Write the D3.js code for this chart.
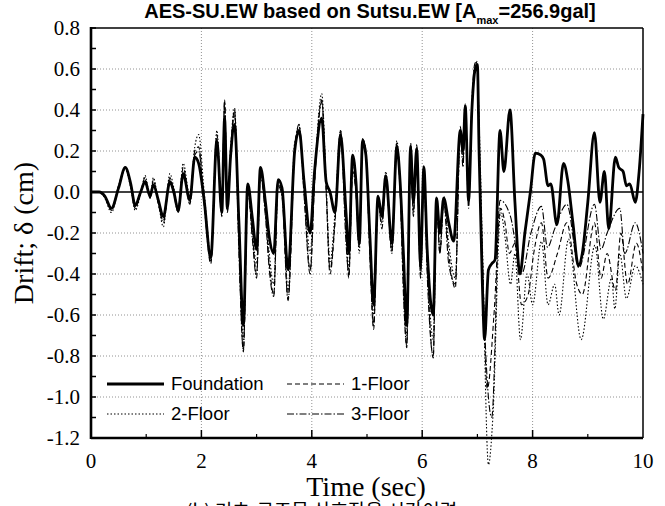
<!DOCTYPE html>
<html>
<head>
<meta charset="utf-8">
<script src="https://cdn.jsdelivr.net/npm/d3@7"></script>
<style>
  body { margin: 0; background: #fff; }
  svg { display: block; }
</style>
</head>
<body>
<div id="chart"></div>
<script>
// tick values and labels
var xMajor = [0, 2, 4, 6, 8, 10];
var xMinor = [1, 3, 5, 7, 9];
var xTickLabels = ["0", "2", "4", "6", "8", "10"];
var yMajor = [0.8, 0.6, 0.4, 0.2, 0.0, -0.2, -0.4, -0.6, -0.8, -1.0, -1.2];
var yMinor = [0.7, 0.5, 0.3, 0.1, -0.1, -0.3, -0.5, -0.7, -0.9, -1.1];
var yTickLabels = ["0.8", "0.6", "0.4", "0.2", "0.0", "-0.2", "-0.4", "-0.6", "-0.8", "-1.0", "-1.2"];
var seriesNames = ["Foundation", "1-Floor", "2-Floor", "3-Floor"];

// drift time histories: [time (sec), drift (cm)]
var foundation = [[0,0],[0.15,0],[0.25,-0.02],[0.37,-0.08],[0.5,0.02],[0.62,0.12],[0.72,0.04],[0.8,-0.065],[0.9,0],[0.98,0.05],
  [1.07,-0.02],[1.13,0.035],[1.22,-0.04],[1.31,-0.12],[1.43,0.05],[1.5,0],[1.58,-0.09],[1.67,0.09],[1.79,-0.04],[1.88,0.17],
  [1.95,0.14],[2.05,-0.04],[2.17,-0.32],[2.28,0.25],[2.37,-0.1],[2.42,0.36],[2.47,-0.08],[2.53,0.18],[2.6,0.33],[2.68,-0.15],
  [2.76,-0.65],[2.84,0.04],[2.92,-0.12],[3.0,-0.28],[3.07,0.12],[3.16,-0.05],[3.23,-0.22],[3.31,-0.3],[3.39,0.06],[3.46,0.02],
  [3.57,-0.38],[3.69,0.2],[3.77,0.3],[3.86,0.05],[3.97,-0.2],[4.05,0.1],[4.18,0.36],[4.26,0.05],[4.33,0],[4.42,-0.1],
  [4.52,0.28],[4.62,-0.1],[4.67,-0.3],[4.74,0.18],[4.8,0.05],[4.86,-0.25],[4.92,0.25],[4.98,0.18],[5.05,-0.2],[5.12,-0.55],
  [5.2,-0.02],[5.27,-0.12],[5.34,0.08],[5.45,-0.25],[5.54,0.22],[5.6,0.05],[5.66,-0.3],[5.72,-0.65],[5.79,0.22],[5.84,-0.05],
  [5.9,0.21],[5.97,-0.35],[6.03,0.12],[6.09,-0.28],[6.2,-0.6],[6.26,-0.03],[6.32,-0.2],[6.39,-0.03],[6.48,-0.15],[6.57,-0.24],
  [6.69,0.3],[6.74,0.2],[6.78,0.42],[6.84,-0.04],[6.9,0.4],[6.96,0.6],[7.0,0.62],[7.03,0.2],[7.09,-0.45],[7.13,-0.72],
  [7.2,-0.38],[7.26,-0.35],[7.32,-0.33],[7.41,0.3],[7.48,0.1],[7.59,0.4],[7.68,-0.05],[7.77,-0.4],[7.86,-0.2],[7.96,0],
  [8.05,0.19],[8.15,0.18],[8.2,0.16],[8.28,0.03],[8.33,0.04],[8.44,-0.16],[8.56,0.14],[8.64,0.05],[8.73,-0.15],[8.83,-0.36],
  [8.9,-0.3],[9.0,-0.05],[9.12,0.29],[9.22,-0.05],[9.3,0.1],[9.38,-0.18],[9.5,0.17],[9.56,0.12],[9.64,0.1],[9.7,0.03],
  [9.76,0.04],[9.86,-0.05],[9.93,0.1],[10,0.38]];

var floor1 = [[0,0],[0.15,0],[0.25,-0.02],[0.37,-0.08],[0.5,0.03],[0.62,0.12],[0.72,0.03],[0.8,-0.08],[0.9,0],[0.98,0.07],
  [1.07,-0.03],[1.13,0.06],[1.22,-0.06],[1.31,-0.14],[1.43,0.07],[1.5,-0.01],[1.58,-0.1],[1.67,0.12],[1.79,-0.05],[1.88,0.2],
  [1.95,0.22],[2.05,-0.06],[2.17,-0.35],[2.28,0.28],[2.37,-0.12],[2.42,0.45],[2.47,-0.1],[2.53,0.2],[2.6,0.4],[2.68,-0.25],
  [2.76,-0.78],[2.84,0],[2.92,-0.2],[3.0,-0.4],[3.07,0.1],[3.16,-0.1],[3.23,-0.35],[3.31,-0.5],[3.39,0.04],[3.46,0],
  [3.57,-0.52],[3.69,0.22],[3.77,0.32],[3.86,0],[3.97,-0.38],[4.05,0.05],[4.18,0.45],[4.26,0],[4.33,-0.4],[4.42,-0.15],
  [4.52,0.3],[4.62,-0.2],[4.67,-0.42],[4.74,0.12],[4.8,0],[4.86,-0.27],[4.92,0.26],[4.98,0.19],[5.05,-0.3],[5.12,-0.67],
  [5.2,-0.05],[5.27,-0.15],[5.34,0.08],[5.45,-0.29],[5.54,0.24],[5.6,0],[5.66,-0.45],[5.72,-0.76],[5.79,0.24],[5.84,-0.1],
  [5.9,0.23],[5.97,-0.4],[6.03,0.1],[6.09,-0.35],[6.2,-0.81],[6.26,-0.02],[6.32,-0.3],[6.39,-0.04],[6.48,-0.3],[6.6,-0.47],
  [6.69,0.32],[6.74,0.15],[6.78,0.43],[6.84,-0.05],[6.9,0.42],[6.96,0.6],[7.0,0.64],[7.03,0.3],[7.09,-0.3],[7.18,-0.96],
  [7.3,-0.6],[7.42,-0.08],[7.5,-0.15],[7.58,-0.3],[7.68,-0.25],[7.8,-0.55],[7.92,-0.5],[8.02,-0.3],[8.16,-0.15],[8.28,-0.42],
  [8.45,-0.3],[8.62,-0.15],[8.8,-0.45],[8.9,-0.5],[9.12,-0.15],[9.24,-0.42],[9.35,-0.3],[9.5,-0.48],[9.6,-0.2],[9.72,-0.45],
  [9.88,-0.25],[10,-0.4]];

var floor2 = [[0,0],[0.15,0],[0.25,-0.03],[0.37,-0.1],[0.5,0.02],[0.62,0.11],[0.72,0.02],[0.8,-0.09],[0.9,-0.01],[0.98,0.08],
  [1.07,-0.02],[1.13,0.07],[1.22,-0.05],[1.31,-0.17],[1.43,0.09],[1.5,0.02],[1.58,-0.08],[1.67,0.14],[1.79,-0.02],[1.88,0.22],
  [1.95,0.28],[2.05,0],[2.17,-0.3],[2.28,0.3],[2.37,-0.08],[2.42,0.42],[2.47,-0.05],[2.53,0.22],[2.6,0.41],[2.68,-0.2],
  [2.76,-0.72],[2.84,0.03],[2.92,-0.18],[3.0,-0.35],[3.07,0.12],[3.16,-0.08],[3.23,-0.3],[3.31,-0.45],[3.39,0.05],[3.46,0.03],
  [3.57,-0.48],[3.69,0.24],[3.77,0.3],[3.86,0.04],[3.97,-0.3],[4.05,0.08],[4.18,0.48],[4.26,0.04],[4.33,-0.34],[4.42,-0.1],
  [4.52,0.3],[4.62,-0.15],[4.67,-0.38],[4.74,0.15],[4.8,0.03],[4.86,-0.3],[4.92,0.25],[4.98,0.2],[5.05,-0.25],[5.12,-0.6],
  [5.2,-0.02],[5.27,-0.12],[5.34,0.1],[5.45,-0.3],[5.54,0.25],[5.6,0.05],[5.66,-0.4],[5.72,-0.7],[5.79,0.22],[5.84,-0.05],
  [5.9,0.2],[5.97,-0.38],[6.03,0.13],[6.09,-0.3],[6.2,-0.72],[6.26,-0.03],[6.32,-0.28],[6.39,-0.02],[6.48,-0.25],[6.6,-0.42],
  [6.69,0.28],[6.74,0.2],[6.78,0.4],[6.84,-0.02],[6.9,0.4],[6.96,0.62],[7.0,0.58],[7.03,0.35],[7.09,-0.25],[7.2,-1.33],
  [7.28,-1.1],[7.42,-0.1],[7.5,-0.22],[7.6,-0.45],[7.68,-0.3],[7.78,-0.72],[7.9,-0.4],[8.0,-0.55],[8.16,-0.24],[8.28,-0.55],
  [8.4,-0.45],[8.48,-0.6],[8.65,-0.23],[8.88,-0.72],[9.13,-0.26],[9.28,-0.62],[9.43,-0.42],[9.49,-0.57],[9.58,-0.3],[9.7,-0.52],
  [9.86,-0.36],[10,-0.45]];

var floor3 = [[0,0],[0.15,0],[0.25,-0.02],[0.37,-0.09],[0.5,0.03],[0.62,0.12],[0.72,0.04],[0.8,-0.07],[0.9,0],[0.98,0.06],
  [1.07,-0.03],[1.13,0.05],[1.22,-0.05],[1.31,-0.15],[1.43,0.06],[1.5,0],[1.58,-0.1],[1.67,0.1],[1.79,-0.06],[1.88,0.18],
  [1.95,0.2],[2.05,-0.05],[2.17,-0.34],[2.28,0.26],[2.37,-0.11],[2.42,0.44],[2.47,-0.09],[2.53,0.19],[2.6,0.38],[2.68,-0.3],
  [2.76,-0.77],[2.84,0.02],[2.92,-0.22],[3.0,-0.42],[3.07,0.08],[3.16,-0.12],[3.23,-0.38],[3.31,-0.51],[3.39,0.03],[3.46,-0.02],
  [3.57,-0.53],[3.69,0.2],[3.77,0.33],[3.86,-0.02],[3.97,-0.4],[4.05,0.04],[4.18,0.44],[4.26,0.02],[4.33,-0.38],[4.42,-0.14],
  [4.52,0.29],[4.62,-0.25],[4.67,-0.4],[4.74,0.1],[4.8,0],[4.86,-0.26],[4.92,0.26],[4.98,0.18],[5.05,-0.28],[5.12,-0.65],
  [5.2,-0.04],[5.27,-0.18],[5.34,0.07],[5.45,-0.28],[5.54,0.23],[5.6,0.02],[5.66,-0.5],[5.72,-0.75],[5.79,0.23],[5.84,-0.12],
  [5.9,0.22],[5.97,-0.42],[6.03,0.08],[6.09,-0.4],[6.2,-0.8],[6.26,-0.05],[6.32,-0.3],[6.39,-0.05],[6.48,-0.35],[6.6,-0.45],
  [6.69,0.3],[6.74,0.12],[6.78,0.42],[6.84,-0.08],[6.9,0.44],[6.96,0.63],[7.0,0.63],[7.03,0.25],[7.09,-0.35],[7.26,-1.1],
  [7.41,-0.04],[7.6,-0.12],[7.8,-0.4],[7.97,-0.2],[8.16,-0.07],[8.27,-0.27],[8.4,-0.18],[8.62,-0.06],[8.84,-0.37],[9.12,-0.06],
  [9.24,-0.28],[9.35,-0.2],[9.58,-0.08],[9.67,-0.3],[9.86,-0.15],[10,-0.3]];

var width = 665, height = 506;
// plot box edges (named so they don't clash with window.top)
var plotL = 91, plotR = 643, plotT = 28, plotB = 438;

var svg = d3.select("#chart")
  .append("svg")
    .attr("width", width)
    .attr("height", height);

var x = d3.scaleLinear().domain([0, 10]).range([plotL, plotR]);
var y = d3.scaleLinear().domain([-1.2, 0.8]).range([plotB, plotT]);

// dotted grid (not on the zero line, which is drawn solid)
svg.append("g")
  .selectAll("line")
  .data(yMajor.filter(function(d){ return d !== 0 && d !== 0.8 && d !== -1.2; }))
  .enter().append("line")
    .attr("x1", plotL).attr("x2", plotR)
    .attr("y1", function(d){ return y(d); }).attr("y2", function(d){ return y(d); })
    .attr("stroke", "#777").attr("stroke-width", 0.8).attr("stroke-dasharray", "1,2");
svg.append("g")
  .selectAll("line")
  .data(xMajor.filter(function(d){ return d !== 0 && d !== 10; }))
  .enter().append("line")
    .attr("y1", plotT).attr("y2", plotB)
    .attr("x1", function(d){ return x(d); }).attr("x2", function(d){ return x(d); })
    .attr("stroke", "#777").attr("stroke-width", 0.8).attr("stroke-dasharray", "1,2");

// zero line
svg.append("line")
  .attr("x1", plotL).attr("x2", plotR)
  .attr("y1", y(0)).attr("y2", y(0))
  .attr("stroke", "#000").attr("stroke-width", 1.6);

// the four series
var line = d3.line()
  .x(function(d){ return x(d[0]); })
  .y(function(d){ return y(d[1]); })
  .curve(d3.curveMonotoneX);

var styles = [
  {data: foundation, dash: null, w: 2.8},
  {data: floor1, dash: "5,3", w: 1.1},
  {data: floor2, dash: "1.5,2", w: 1.1},
  {data: floor3, dash: "7,2,1.5,2", w: 1.1}
];

// floors first, foundation on top
[1, 2, 3, 0].forEach(function(i){
  svg.append("path")
    .datum(styles[i].data)
    .attr("d", line)
    .attr("fill", "none")
    .attr("stroke", "#000")
    .attr("stroke-width", styles[i].w)
    .attr("stroke-dasharray", styles[i].dash)
    .attr("stroke-linejoin", "round");
});

// inward ticks
var tickG = svg.append("g").attr("stroke", "#000");
tickG.selectAll(".xt").data(xMajor.slice(1, -1)).enter().append("line")
  .attr("x1", function(d){ return x(d); }).attr("x2", function(d){ return x(d); })
  .attr("y1", plotB).attr("y2", plotB - 8).attr("stroke-width", 1.5);
tickG.selectAll(".xm").data(xMinor).enter().append("line")
  .attr("x1", function(d){ return x(d); }).attr("x2", function(d){ return x(d); })
  .attr("y1", plotB).attr("y2", plotB - 4).attr("stroke-width", 1.2);
tickG.selectAll(".yt").data(yMajor.concat(yMinor)).enter().append("line")
  .attr("x1", plotL).attr("x2", plotL + 5)
  .attr("y1", function(d){ return y(d); }).attr("y2", function(d){ return y(d); })
  .attr("stroke-width", 1.5);

// frame
svg.append("line").attr("x1", plotL).attr("x2", plotR).attr("y1", plotT).attr("y2", plotT)
  .attr("stroke", "#000").attr("stroke-width", 1.5);
svg.append("line").attr("x1", plotR).attr("x2", plotR).attr("y1", plotT).attr("y2", plotB)
  .attr("stroke", "#000").attr("stroke-width", 1.5);
svg.append("line").attr("x1", plotL).attr("x2", plotR).attr("y1", plotB).attr("y2", plotB)
  .attr("stroke", "#000").attr("stroke-width", 2.6);
svg.append("line").attr("x1", plotL).attr("x2", plotL).attr("y1", plotT - 1).attr("y2", plotB + 1)
  .attr("stroke", "#000").attr("stroke-width", 2.6);

// tick labels
var serif = "'Liberation Serif', 'Times New Roman', serif";
var sans = "'Liberation Sans', Arial, sans-serif";
svg.append("g").selectAll("text").data(yMajor).enter().append("text")
  .attr("x", 80).attr("y", function(d){ return y(d) + 7; })
  .attr("text-anchor", "end")
  .style("font-family", serif).style("font-size", "21px")
  .text(function(d, i){ return yTickLabels[i]; });
svg.append("g").selectAll("text").data(xMajor).enter().append("text")
  .attr("x", function(d){ return x(d); }).attr("y", 468)
  .attr("text-anchor", "middle")
  .style("font-family", serif).style("font-size", "21px")
  .text(function(d, i){ return xTickLabels[i]; });

// axis titles
svg.append("text")
  .attr("x", 366).attr("y", 496)
  .attr("text-anchor", "middle")
  .style("font-family", serif).style("font-size", "28px")
  .text("Time (sec)");
svg.append("text")
  .attr("transform", "translate(33," + ((plotT + plotB) / 2) + ") rotate(-90)")
  .attr("text-anchor", "middle")
  .style("font-family", serif).style("font-size", "28px")
  .text("Drift; δ (cm)");

// caption cut by the bottom edge of the picture
svg.append("text")
  .attr("x", 186).attr("y", 518)
  .style("font-family", "'Noto Sans CJK KR', sans-serif").style("font-size", "19px")
  .text("(b) 기초-구조물 상호작용 시간이력");

// title
var title = svg.append("text")
  .attr("x", 370).attr("y", 18)
  .attr("text-anchor", "middle")
  .style("font-family", sans).style("font-size", "20px").style("font-weight", "bold");
title.append("tspan").text("AES-SU.EW based on Sutsu.EW [A");
title.append("tspan").attr("dy", 6).style("font-size", "11px").text("max");
title.append("tspan").attr("dy", -6).text("=256.9gal]");

// legend
var legendRows = [
  {name: seriesNames[0], s: styles[0], lx: 107, ly: 384},
  {name: seriesNames[1], s: styles[1], lx: 287, ly: 384},
  {name: seriesNames[2], s: styles[2], lx: 107, ly: 414},
  {name: seriesNames[3], s: styles[3], lx: 287, ly: 414}
];
var lg = svg.append("g").selectAll("g").data(legendRows).enter().append("g");
lg.append("line")
  .attr("x1", function(d){ return d.lx; }).attr("x2", function(d){ return d.lx + 57; })
  .attr("y1", function(d){ return d.ly; }).attr("y2", function(d){ return d.ly; })
  .attr("stroke", "#000")
  .attr("stroke-width", function(d){ return d.s.w; })
  .attr("stroke-dasharray", function(d){ return d.s.dash; });
lg.append("text")
  .attr("x", function(d){ return d.lx + 64; })
  .attr("y", function(d){ return d.ly + 6; })
  .style("font-family", sans).style("font-size", "18.5px")
  .text(function(d){ return d.name; });
</script>
</body>
</html>
